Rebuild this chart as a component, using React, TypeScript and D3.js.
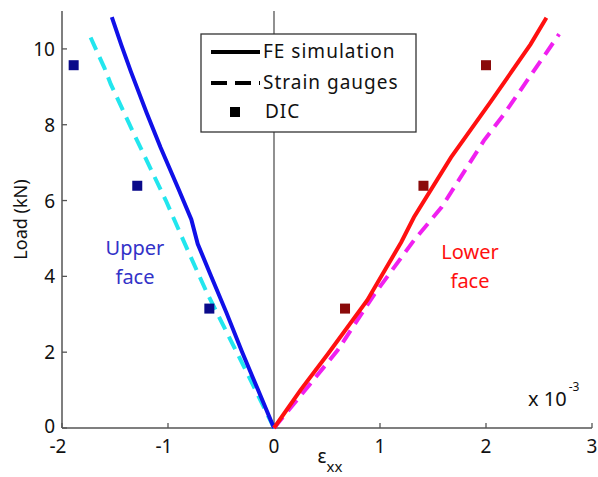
import { useEffect, useRef } from 'react'
import * as d3 from 'd3'

// strain in units of 1e-3, load in kN
const feUpper: [number, number][] = [
  [0, 0], [-0.15, 1.0], [-0.3, 2.0], [-0.45, 3.05], [-0.6, 4.05], [-0.72, 4.86],
  [-0.78, 5.5], [-0.9, 6.3], [-1.07, 7.4], [-1.2, 8.3], [-1.35, 9.4],
  [-1.44, 10.1], [-1.53, 10.84]
]
const sgUpper: [number, number][] = [
  [0, 0], [-0.28, 1.6], [-0.63, 3.55], [-0.8, 4.6], [-1.02, 6.0],
  [-1.32, 7.75], [-1.54, 9.07], [-1.6, 9.5], [-1.73, 10.3]
]
const dicUpper: [number, number][] = [[-1.89, 9.57], [-1.29, 6.39], [-0.61, 3.15]]

const feLower: [number, number][] = [
  [0, 0], [0.25, 1.0], [0.51, 1.96], [0.88, 3.37], [1.2, 4.9], [1.32, 5.56],
  [1.67, 7.14], [2.05, 8.63], [2.42, 10.12], [2.57, 10.82]
]
const sgLower: [number, number][] = [
  [0, 0], [0.32, 1.09], [0.6, 2.05], [0.95, 3.54], [1.32, 4.95],
  [1.58, 5.82], [1.98, 7.58], [2.17, 8.28], [2.69, 10.39]
]
const dicLower: [number, number][] = [[0.67, 3.15], [1.41, 6.39], [2.0, 9.57]]

const xTicks = [-2, -1, 0, 1, 2, 3]
const yTicks = [0, 2, 4, 6, 8, 10]
const legendItems = ['FE simulation', 'Strain gauges', 'DIC']

export default function App() {
  const svgRef = useRef<SVGSVGElement>(null)

  useEffect(() => {
    const width = 598
    const height = 477
    const svg = d3.select(svgRef.current)
    svg.selectAll('*').remove()
    svg.attr('width', width).attr('height', height)

    const font = '"Noto Sans", "Open Sans", sans-serif'
    const axisColor = '#555'

    const x = d3.scaleLinear().domain([-2, 3]).range([62, 592])
    const y = d3.scaleLinear().domain([0, 11]).range([428, 11])

    const g = svg.append('g')

    // axes (left + bottom, ticks inward)
    g.append('line')
      .attr('x1', x(-2)).attr('x2', x(-2)).attr('y1', y(0)).attr('y2', y(11))
      .attr('stroke', axisColor).attr('stroke-width', 1.5)
    g.append('line')
      .attr('x1', x(-2)).attr('x2', x(3)).attr('y1', y(0)).attr('y2', y(0))
      .attr('stroke', axisColor).attr('stroke-width', 1.5)
    // vertical line at zero
    g.append('line')
      .attr('x1', x(0)).attr('x2', x(0)).attr('y1', y(0)).attr('y2', y(11))
      .attr('stroke', axisColor).attr('stroke-width', 1.3)

    xTicks.forEach(t => {
      g.append('line')
        .attr('x1', x(t)).attr('x2', x(t)).attr('y1', y(0)).attr('y2', y(0) - 5)
        .attr('stroke', axisColor).attr('stroke-width', 1.3)
      g.append('text')
        .attr('x', x(t) - (t < 0 ? 4 : 0)).attr('y', 453)
        .attr('text-anchor', 'middle')
        .attr('font-family', font).attr('font-size', 19).attr('fill', '#111')
        .text(t)
    })
    yTicks.forEach(t => {
      g.append('line')
        .attr('x1', x(-2)).attr('x2', x(-2) + 5).attr('y1', y(t)).attr('y2', y(t))
        .attr('stroke', axisColor).attr('stroke-width', 1.3)
      g.append('text')
        .attr('x', 55).attr('y', y(t) + (t === 0 ? 5 : 7))
        .attr('text-anchor', 'end')
        .attr('font-family', font).attr('font-size', 19).attr('fill', '#111')
        .text(t)
    })

    // axis labels
    g.append('text')
      .attr('transform', `translate(27,${(y(0) + y(11)) / 2}) rotate(-90)`)
      .attr('text-anchor', 'middle')
      .attr('font-family', font).attr('font-size', 18).attr('fill', '#111')
      .text('Load (kN)')

    const xl = g.append('text')
      .attr('x', 330).attr('y', 463)
      .attr('text-anchor', 'middle')
      .attr('font-family', font).attr('font-size', 19).attr('fill', '#111')
    xl.append('tspan').text('ε')
    xl.append('tspan').attr('dy', 9).attr('font-size', 15).text('xx')

    const mult = g.append('text')
      .attr('x', 528).attr('y', 406)
      .attr('font-family', font).attr('font-size', 20).attr('fill', '#111')
    mult.append('tspan').text('x 10')
    mult.append('tspan').attr('dy', -15).attr('dx', 2).attr('font-size', 12).text('-3')

    const line = d3.line<[number, number]>().x(d => x(d[0])).y(d => y(d[1]))

    const series = [
      { data: sgUpper, color: '#22e6ee', dash: '14,8' },
      { data: feUpper, color: '#1010e8', dash: null },
      { data: sgLower, color: '#f020f0', dash: '14,8' },
      { data: feLower, color: '#ff1010', dash: null }
    ]
    series.forEach(s => {
      g.append('path')
        .datum(s.data)
        .attr('d', line)
        .attr('fill', 'none')
        .attr('stroke', s.color)
        .attr('stroke-width', 4)
        .attr('stroke-dasharray', s.dash)
    })

    const sq = 10
    g.selectAll('.dic-up')
      .data(dicUpper)
      .enter()
      .append('rect')
      .attr('x', d => x(d[0]) - sq / 2)
      .attr('y', d => y(d[1]) - sq / 2)
      .attr('width', sq).attr('height', sq)
      .attr('fill', '#0a0a8a')
    g.selectAll('.dic-low')
      .data(dicLower)
      .enter()
      .append('rect')
      .attr('x', d => x(d[0]) - sq / 2)
      .attr('y', d => y(d[1]) - sq / 2)
      .attr('width', sq).attr('height', sq)
      .attr('fill', '#8a0a0a')

    // face labels
    const upper = g.append('text')
      .attr('text-anchor', 'middle')
      .attr('font-family', font).attr('font-size', 20).attr('fill', '#3232c8')
    upper.append('tspan').attr('x', 135).attr('y', 255).text('Upper')
    upper.append('tspan').attr('x', 135).attr('y', 284).text('face')

    const lower = g.append('text')
      .attr('text-anchor', 'middle')
      .attr('font-family', font).attr('font-size', 20).attr('fill', '#ff1010')
    lower.append('tspan').attr('x', 470).attr('y', 259).text('Lower')
    lower.append('tspan').attr('x', 470).attr('y', 288).text('face')

    // legend
    const lg = g.append('g')
    lg.append('rect')
      .attr('x', 201).attr('y', 34).attr('width', 215).attr('height', 98)
      .attr('fill', '#fff').attr('stroke', '#333').attr('stroke-width', 1.3)
    const rowY = [52, 83, 112]
    legendItems.forEach((name, i) => {
      if (i < 2) {
        lg.append('line')
          .attr('x1', 211).attr('x2', 260).attr('y1', rowY[i]).attr('y2', rowY[i])
          .attr('stroke', '#000').attr('stroke-width', 4)
          .attr('stroke-dasharray', i === 1 ? '16,8' : null)
      } else {
        lg.append('rect')
          .attr('x', 230).attr('y', rowY[i] - 5).attr('width', 10).attr('height', 10)
          .attr('fill', '#000')
      }
      lg.append('text')
        .attr('x', i === 2 ? 265 : 263).attr('y', rowY[i] + 6)
        .attr('font-family', font).attr('font-size', 19).attr('fill', '#111')
        .attr('letter-spacing', 1)
        .text(name)
    })
  }, [])

  return (
    <div style={{ width: 598, height: 477 }}>
      <svg ref={svgRef} style={{ position: 'absolute', left: 0, top: 0 }}></svg>
    </div>
  )
}
